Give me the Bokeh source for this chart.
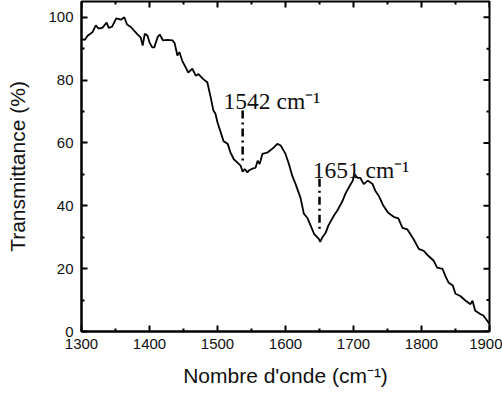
import math
from bokeh.plotting import figure
from bokeh.models import FixedTicker, Range1d
from bokeh.core.properties import value
from bokeh.embed import file_html
from bokeh.resources import INLINE

wavenumber = [1300, 1305, 1309, 1316, 1321, 1325, 1331, 1337, 1340, 1345, 1351, 1358, 1363, 1367,
              1373, 1379, 1382, 1387, 1390, 1393, 1397, 1400, 1404, 1407, 1412, 1415, 1420, 1426,
              1434, 1437, 1441, 1444, 1448, 1453, 1457, 1463, 1468, 1472, 1479, 1485, 1490, 1494,
              1497, 1500, 1504, 1509, 1515, 1519, 1524, 1529, 1534, 1537, 1540, 1544, 1546, 1551,
              1556, 1559, 1562, 1566, 1573, 1581, 1588, 1593, 1600, 1605, 1610, 1615, 1622, 1627,
              1632, 1637, 1642, 1649, 1651, 1654, 1659, 1663, 1671, 1676, 1684, 1688, 1693, 1699,
              1701, 1706, 1710, 1715, 1721, 1728, 1732, 1737, 1744, 1751, 1759, 1766, 1772, 1779,
              1788, 1796, 1803, 1810, 1818, 1823, 1831, 1835, 1840, 1846, 1850, 1857, 1865, 1872,
              1875, 1879, 1887, 1891, 1899, 1900]
transmittance = [93.0, 92.8, 94.1, 95.2, 97.4, 96.4, 96.7, 98.3, 96.6, 97.0, 99.6, 99.2, 100.0, 97.7,
                 96.8, 95.3, 94.6, 93.6, 91.0, 94.7, 94.2, 92.0, 90.4, 90.4, 93.7, 94.5, 92.6, 92.8,
                 92.6, 91.7, 87.8, 88.9, 86.2, 84.1, 82.4, 83.6, 81.4, 81.9, 80.3, 79.3, 74.5, 70.3,
                 69.3, 66.5, 63.9, 60.5, 59.7, 57.0, 54.8, 53.8, 52.8, 50.8, 51.7, 50.6, 51.2, 51.8,
                 52.1, 54.3, 53.3, 56.5, 56.9, 58.2, 59.7, 59.2, 56.5, 53.3, 49.5, 46.8, 42.6, 37.5,
                 36.2, 33.7, 31.1, 29.5, 28.5, 29.9, 31.4, 33.7, 36.8, 38.4, 41.6, 43.8, 45.8, 48.0,
                 50.2, 48.9, 48.9, 46.9, 48.0, 46.9, 44.8, 43.2, 40.0, 37.8, 36.5, 36.0, 33.0, 32.5,
                 29.5, 26.3, 25.7, 24.1, 22.5, 20.3, 19.9, 17.7, 15.5, 14.6, 12.0, 11.3, 9.8, 8.7,
                 9.8, 6.6, 5.5, 5.1, 2.7, 2.5]

peak_labels = ["1542 cm\u207b\u00b9", "1651 cm\u207b\u00b9"]
peak_label_x = [1509, 1640]
peak_label_y = [73.5, 51.5]
marker_x = [1537, 1650]
marker_top = [70.3, 48.6]
marker_bottom = [54.4, 32.7]

x_major_ticks = [1300, 1400, 1500, 1600, 1700, 1800, 1900]
x_minor_ticks = [1350, 1450, 1550, 1650, 1750, 1850]
y_major_ticks = [0, 20, 40, 60, 80, 100]
y_minor_ticks = [10, 30, 50, 70, 90]

x_lo, x_hi = 1300, 1900
y_lo, y_hi = 0, 105

p = figure(width=502, height=394, output_backend="svg", toolbar_location=None,
           x_range=Range1d(x_lo, x_hi), y_range=Range1d(y_lo, y_hi),
           min_border_left=81, min_border_top=1, min_border_right=13, min_border_bottom=63,
           x_axis_label="Nombre d'onde (cm\u207b\u00b9)", y_axis_label="Transmittance (%)")
p.grid.visible = False
p.outline_line_color = "black"
p.outline_line_width = 2
p.background_fill_color = "white"
p.border_fill_color = "white"

p.xaxis.ticker = FixedTicker(ticks=x_major_ticks, minor_ticks=x_minor_ticks)
p.yaxis.ticker = FixedTicker(ticks=y_major_ticks, minor_ticks=y_minor_ticks)

for ax in [p.xaxis[0], p.yaxis[0]]:
    ax.major_tick_in = 6
    ax.major_tick_out = 0
    ax.minor_tick_in = 3
    ax.minor_tick_out = 0
    ax.axis_line_width = 2
    ax.major_tick_line_width = 2
    ax.minor_tick_line_width = 2
    ax.major_label_text_font = "Liberation Sans"
    ax.major_label_text_font_size = "15px"
    ax.major_label_text_color = "#111111"
    ax.axis_label_text_font = "Liberation Sans"
    ax.axis_label_text_font_size = "21px"
    ax.axis_label_text_font_style = "normal"
    ax.axis_label_text_color = "#111111"

p.xaxis.major_label_standoff = 7
p.xaxis.axis_label_standoff = 12
p.yaxis.major_label_standoff = 8
p.yaxis.axis_label_standoff = 16

# mirrored inward ticks on the top and right frame edges
p.ray(x=x_major_ticks, y=[y_hi] * len(x_major_ticks), length=6, length_units="screen",
      angle=-math.pi / 2, line_color="black", line_width=2)
p.ray(x=x_minor_ticks, y=[y_hi] * len(x_minor_ticks), length=3, length_units="screen",
      angle=-math.pi / 2, line_color="black", line_width=2)
p.ray(x=[x_hi] * len(y_major_ticks), y=y_major_ticks, length=6, length_units="screen",
      angle=math.pi, line_color="black", line_width=2)
p.ray(x=[x_hi] * len(y_minor_ticks), y=y_minor_ticks, length=3, length_units="screen",
      angle=math.pi, line_color="black", line_width=2)

p.line(wavenumber, transmittance, line_color="black", line_width=1.8)

p.segment(x0=marker_x, y0=marker_top, x1=marker_x, y1=marker_bottom,
          line_color="black", line_width=2.5, line_dash="8 4 2 4")

p.text(x=peak_label_x, y=peak_label_y, text=peak_labels,
       text_font=value("Liberation Serif"), text_font_size="23.5px",
       text_color="#111111", text_baseline="alphabetic", text_align="left")

open("out.html", "w").write(file_html(p, INLINE))
